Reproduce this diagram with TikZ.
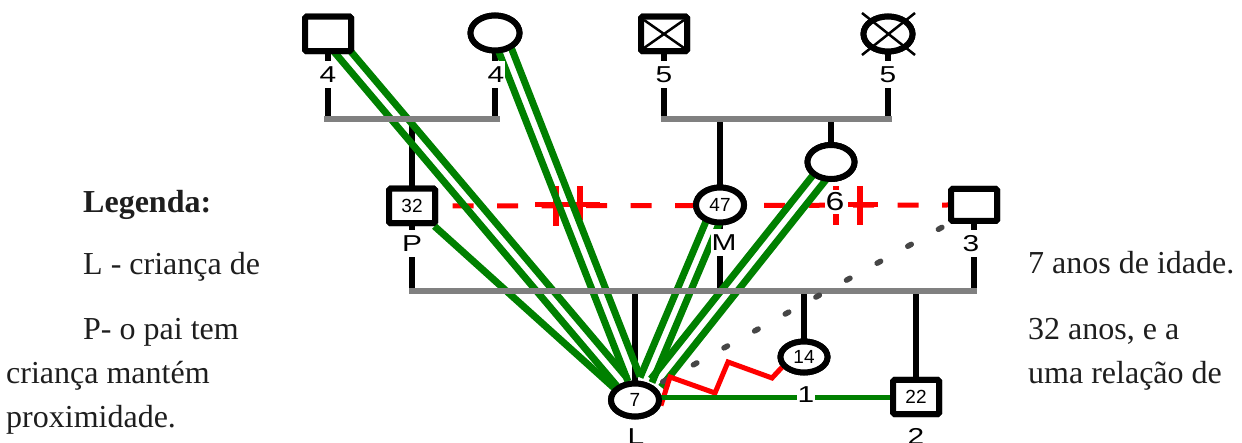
\documentclass[tikz,border=0pt]{standalone}
\usepackage{fontspec}
\setmainfont{Liberation Serif}
\newfontfamily\arialf{Liberation Sans}
\usetikzlibrary{shapes.geometric,calc}
\definecolor{gen}{RGB}{0,128,0}
\definecolor{lin}{RGB}{128,128,128}
\definecolor{dotc}{RGB}{70,70,70}
\definecolor{txt}{RGB}{30,30,30}
\newcommand{\sx}[1]{\scalebox{1.3}[1]{#1}}
\begin{document}
\begin{tikzpicture}[x=1pt,y=-1pt,
  sq/.style={draw=black,fill=white,line width=6pt,minimum width=46pt,minimum height=34.5pt,inner sep=0pt,rounded corners=1.5pt},
  circ/.style={ellipse,draw=black,fill=white,line width=6pt,minimum width=48pt,minimum height=35pt,inner sep=0pt},
  lab/.style={fill=white,inner sep=0.5pt,minimum height=27pt,font=\arialf\fontsize{23}{23}\selectfont},
  inn/.style={font=\arialf\fontsize{19}{19}\selectfont},
  legend/.style={anchor=base west,inner sep=0pt,text=txt,font=\fontsize{32}{38}\selectfont},
  kin/.style={line width=5.5pt,black},
  grayline/.style={line width=5.5pt,lin},
  close/.style={line width=7pt,gen},
  cut/.style={line width=5pt,red},
  crossx/.style={line width=2.5pt,black}
]
\useasboundingbox (0,0) rectangle (1242,443);

% coordinates of sibship lines
\coordinate (ua) at (324,119);
\coordinate (ub) at (500,119);
\coordinate (uc) at (661,119);
\coordinate (ud) at (892,119);
\coordinate (la) at (409,291);
\coordinate (lb) at (977,291);

% nodes
\node[sq] (gf) at (328,34) {};
\node[circ,minimum width=49pt] (gm) at (495,33) {};
\node[sq] (gf2) at (664,34) {};
\node[circ,minimum width=49pt] (gm2) at (888,34) {};
\node[circ,minimum width=47pt,minimum height=34pt] (sib) at (831,162) {};
\node[circ] (m) at (720,205) {};
\node[sq] (p) at (412,206) {};
\node[sq,minimum height=32pt] (s3) at (974,205) {};
\node[circ,minimum height=33pt] (l) at (635,400) {};
\node[circ,minimum width=47pt,minimum height=31pt] (c14) at (804,357) {};
\node[sq,minimum height=34pt] (b22) at (916,397) {};

% black descent lines
\draw[kin] (gf.center) -- (gf.center |- ua);
\draw[kin] (gm.center) -- (gm.center |- ub);
\draw[kin] (gf2.center) -- (gf2.center |- uc);
\draw[kin] (gm2.center) -- (gm2.center |- ud);
\draw[kin] (p.center |- ua) -- (p.center);
\draw[kin] (p.center) -- (p.center |- la);
\draw[kin] (m.center |- uc) -- (m.center);
\draw[kin] (m.center) -- (m.center |- la);
\draw[kin] (sib.center |- uc) -- (sib.center);
\draw[kin] (s3.center) -- (s3.center |- la);
\draw[kin] (l.center |- la) -- (l.center);
\draw[kin] (c14.center |- la) -- (c14.center);
\draw[kin] (b22.center |- la) -- (b22.center);

% cut-off relationship P -- 3
\draw[cut,dash pattern=on 21pt off 23.5pt,dash phase=30pt] (p.east) -- (s3.west);
\coordinate (r1) at (535,205);
\coordinate (r2) at (600,205);
\coordinate (r3) at (848,205);
\coordinate (r4) at (878,205);
\draw[cut] (r1) -- (r2);
\draw[cut] (r3) -- (r4);
\draw[cut,line width=6pt] (556,186) -- (556,226);
\draw[cut,line width=6pt] (580,186) -- (580,220);
\draw[cut,line width=6pt] (836,186) -- (836,225);
\draw[cut,line width=6pt] (860,186) -- (860,225);

% close relationships (green): centre lines of the double lines
\coordinate (gfa) at ([shift={(8,10)}]gf.center);
\coordinate (gfb) at (622,382);
\coordinate (gma) at ([shift={(7,9)}]gm.center);
\coordinate (gmb) at (634,379);
\coordinate (ma) at ([shift={(-3,7)}]m.center);
\coordinate (mb) at (646,380);
\coordinate (sa) at ([shift={(-4,6)}]sib.center);
\coordinate (sb) at (656,383);
\foreach \a/\b in {gfa/gfb,gma/gmb,ma/mb,sa/sb}{
  \draw[close] ($(\a)!6.5pt!90:(\b)$) -- ($(\b)!6.5pt!-90:(\a)$);
  \draw[close] ($(\a)!6.5pt!-90:(\b)$) -- ($(\b)!6.5pt!90:(\a)$);
}
\draw[close] (p.-42) -- (l.150);

% gray sibship lines
\draw[grayline] (ua) -- (ub);
\draw[grayline] (uc) -- (ud);
\draw[grayline] (la) -- (lb);

% distant relation (gray dots)
\draw[line width=5.5pt,dotc,line cap=round,dash pattern=on 4pt off 31pt,dash phase=28pt] (s3.south west) -- (l.35);

% conflict (red zigzag)
\draw[red,line width=5pt,line join=miter] (l.-12) -- (670,377) -- (715,393) -- (728,362) -- (772,378) -- (c14.205);

% L -- 22
\draw[line width=5pt,gen] (l.center |- b22.west) -- (b22.west);

% redraw nodes on top
\node[sq] at (gf) {};
\node[circ,minimum width=49pt] at (gm) {};
\node[sq] at (gf2) {};
\draw[crossx] ([shift={(-20,-14)}]gf2.center) -- ([shift={(20,14)}]gf2.center);
\draw[crossx] ([shift={(-20,14)}]gf2.center) -- ([shift={(20,-14)}]gf2.center);
\node[circ,minimum width=49pt] at (gm2) {};
\draw[crossx] ([shift={(-26,-21)}]gm2.center) -- ([shift={(27,21)}]gm2.center);
\draw[crossx] ([shift={(-26,21)}]gm2.center) -- ([shift={(27,-21)}]gm2.center);
\node[circ,minimum width=47pt,minimum height=34pt] at (sib) {};
\node[circ,inn] at (m) {47};
\node[sq,inn] at (p) {32};
\node[sq,minimum height=32pt] at (s3) {};
\node[circ,minimum height=33pt,inn] at (l) {7};
\node[circ,minimum width=47pt,minimum height=31pt,inn] at (c14) {14};
\node[sq,minimum height=34pt,inn] at (b22) {22};

% labels
\node[lab] (t1) at (328,75) {\sx{4}};
\node[lab] (t2) at (496,75) {\sx{4}};
\node[lab] (t3) at (664,75) {\sx{5}};
\node[lab] (t4) at (888,75) {\sx{5}};
\node[lab] (t5) at (412,244) {\sx{P}};
\node[lab] (t6) at (724,243) {\sx{M}};
\node[lab] (t7) at (971,244) {\sx{3}};
\node[lab,minimum height=24pt,font=\arialf\fontsize{26}{26}\selectfont] (t8) at (835,202) {\sx{6}};
\node[lab] (t9) at (806,395) {\sx{1}};
\node[lab,anchor=base,minimum height=0pt] (t10) at (636,444) {\sx{L}};
\node[lab,anchor=base,minimum height=0pt] (t11) at (916,444) {\sx{2}};

% legend text
\node[legend,font=\bfseries\fontsize{32}{38}\selectfont] (g0) at (83,213) {Legenda:};
\node[legend] (g1) at (83,275) {L - criança de};
\node[legend] (g2) at (1028,274) {7 anos de idade.};
\node[legend] (g3) at (83,340) {P- o pai tem};
\node[legend] (g4) at (1028,340) {32 anos, e a};
\node[legend] (g5) at (6,384) {criança mantém};
\node[legend] (g6) at (1028,384) {uma relação de};
\node[legend] (g7) at (6,427) {proximidade.};
\end{tikzpicture}
\end{document}
